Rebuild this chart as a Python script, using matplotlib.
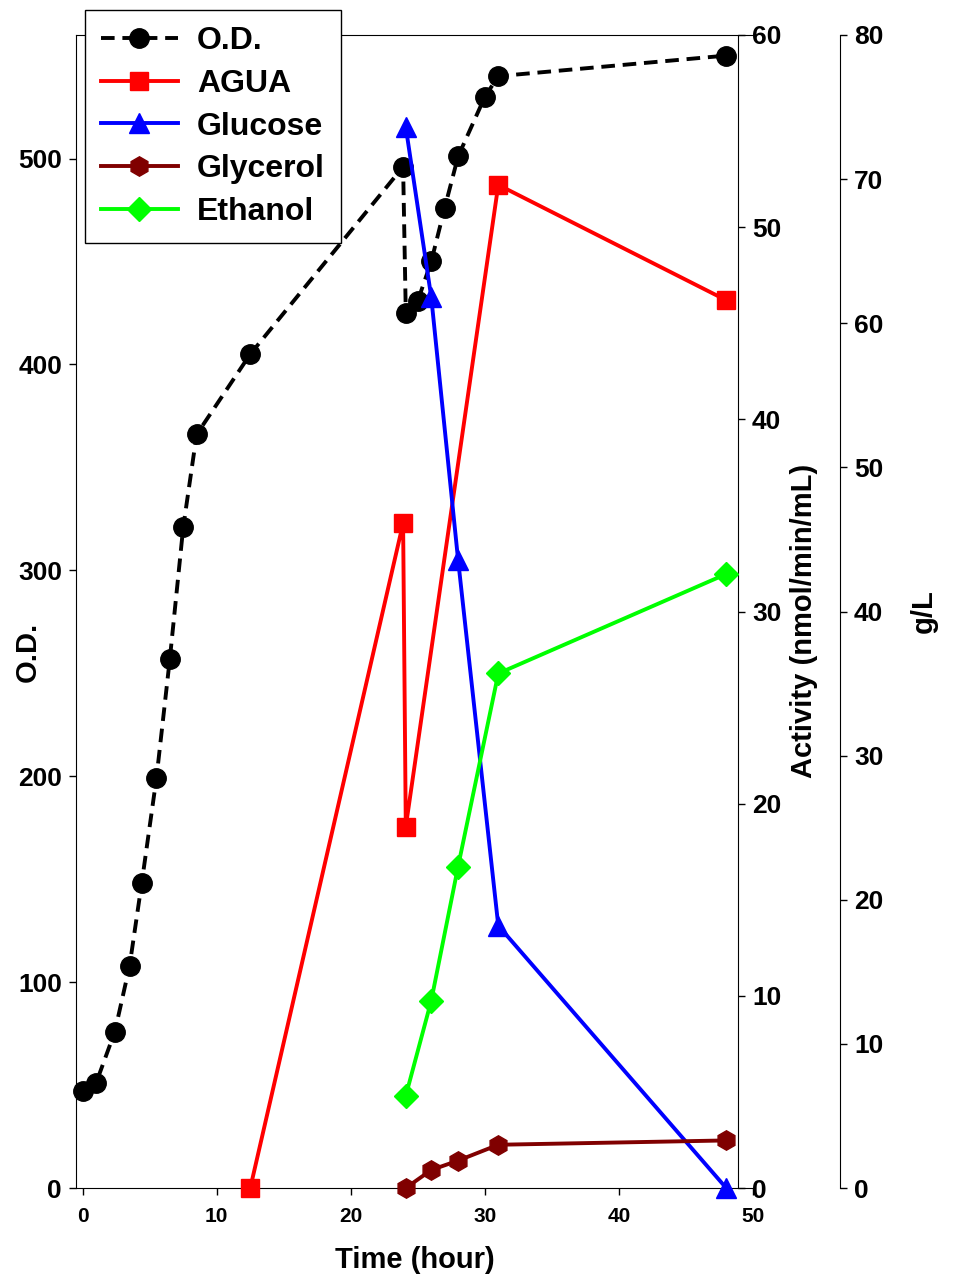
import matplotlib
matplotlib.use("Agg")
import matplotlib.pyplot as plt
from matplotlib.lines import Line2D

plt.rcParams['font.family'] = ['Liberation Sans', 'DejaVu Sans']
plt.rcParams['font.weight'] = 'bold'

# O.D. (eje izquierdo)
t_od = [0, 1, 2.4, 3.5, 4.4, 5.5, 6.5, 7.5, 8.5, 12.5, 23.9, 24.1, 25, 26, 27, 28, 30, 31, 48]
od = [47, 51, 76, 108, 148, 199, 257, 321, 366, 405, 496, 425, 431, 450, 476, 501, 530, 540, 550]

# AGUA (actividad, eje derecho)
t_agua = [12.5, 23.9, 24.1, 31, 48]
agua = [0, 34.6, 18.8, 52.2, 46.2]

# metabolitos en g/L (tercer eje)
t_met = [24.1, 26, 28, 31, 48]
glucosa = [73.6, 61.8, 43.6, 18.2, 0]
glicerol = [0, 1.25, 1.9, 3.0, 3.3]
etanol = [6.4, 13.0, 22.3, 35.7, 42.6]

W, H = 957, 1278
x0, x1, y0, y1 = 76, 753, 35, 1188   # caja del eje en pixeles

def ax_x(px):
    return (px - x0) / (x1 - x0)

def ax_y(py):
    return (y1 - py) / (y1 - y0)

fig = plt.figure(figsize=(W / 100, H / 100), dpi=100)
ax = fig.add_axes([x0 / W, (H - y1) / H, (x1 - x0) / W, (y1 - y0) / H])
ax2 = ax.twinx()
ax3 = ax.twinx()

lw = 2.8
dash = (0, (3.5, 2))
ax.plot(t_od, od, color='black', linestyle=dash, linewidth=lw, marker='o',
        markersize=14, clip_on=False, zorder=3)
ax2.plot(t_agua, agua, color='#ff0000', linewidth=lw, marker='s', markersize=13, clip_on=False)
ax3.plot(t_met, glucosa, color='#0000ff', linewidth=lw, marker='^', markersize=14, clip_on=False)
ax3.plot(t_met, glicerol, color='#800000', linewidth=lw, marker='h', markersize=14, clip_on=False)
ax3.plot(t_met, etanol, color='#00ff00', linewidth=lw, marker='D', markersize=12, clip_on=False)

ax.set_xticks([0, 10, 20, 30, 40, 50])
ax.set_yticks([0, 100, 200, 300, 400, 500])
ax2.set_yticks([0, 10, 20, 30, 40, 50, 60])
ax3.set_yticks([0, 10, 20, 30, 40, 50, 60, 70, 80])

ax.set_xlim(-0.5, 50)
ax.set_ylim(0, 560)
ax2.set_ylim(0, 60)
ax3.set_ylim(0, 80)

ax.spines['right'].set_visible(False)
for s in ['top', 'left', 'bottom']:
    ax2.spines[s].set_visible(False)
    ax3.spines[s].set_visible(False)
ax2.spines['right'].set_position(('axes', ax_x(738)))
ax3.spines['right'].set_position(('axes', ax_x(840)))

ax.tick_params(axis='x', labelsize=15, pad=9, direction='out', length=5, width=1)
for a in (ax, ax2, ax3):
    a.tick_params(axis='y', labelsize=19, pad=5, direction='out', length=5, width=1)
    for lab in a.get_xticklabels() + a.get_yticklabels():
        lab.set_fontweight('bold')

ax.set_xlabel('Time (hour)', fontsize=21, fontweight='bold')
ax.xaxis.set_label_coords(ax_x(415), ax_y(1246))
ax.set_ylabel('O.D.', fontsize=21, fontweight='bold')
ax.yaxis.set_label_coords(ax_x(42), ax_y(652))
ax2.set_ylabel('Activity (nmol/min/mL)', fontsize=21, fontweight='bold')
ax2.yaxis.set_label_coords(ax_x(790), ax_y(621))
ax3.set_ylabel('g/L', fontsize=21, fontweight='bold')
ax3.yaxis.set_label_coords(ax_x(910), ax_y(611))

handles = [
    Line2D([], [], color='black', linestyle=dash, linewidth=lw, marker='o', markersize=14),
    Line2D([], [], color='#ff0000', linewidth=lw, marker='s', markersize=13),
    Line2D([], [], color='#0000ff', linewidth=lw, marker='^', markersize=14),
    Line2D([], [], color='#800000', linewidth=lw, marker='h', markersize=14),
    Line2D([], [], color='#00ff00', linewidth=lw, marker='D', markersize=12),
]
labels = ['O.D.', 'AGUA', 'Glucose', 'Glycerol', 'Ethanol']
leg = fig.legend(handles, labels, loc='upper left', bbox_to_anchor=(85 / W, 1 - 10 / H),
                 frameon=True, fancybox=False, edgecolor='black', framealpha=1,
                 prop={'weight': 'bold', 'size': 23},
                 handlelength=2.4, labelspacing=0.4, borderpad=0.5, handletextpad=0.6,
                 borderaxespad=0)
leg.get_frame().set_linewidth(1)

fig.savefig('out.png', dpi=100)
